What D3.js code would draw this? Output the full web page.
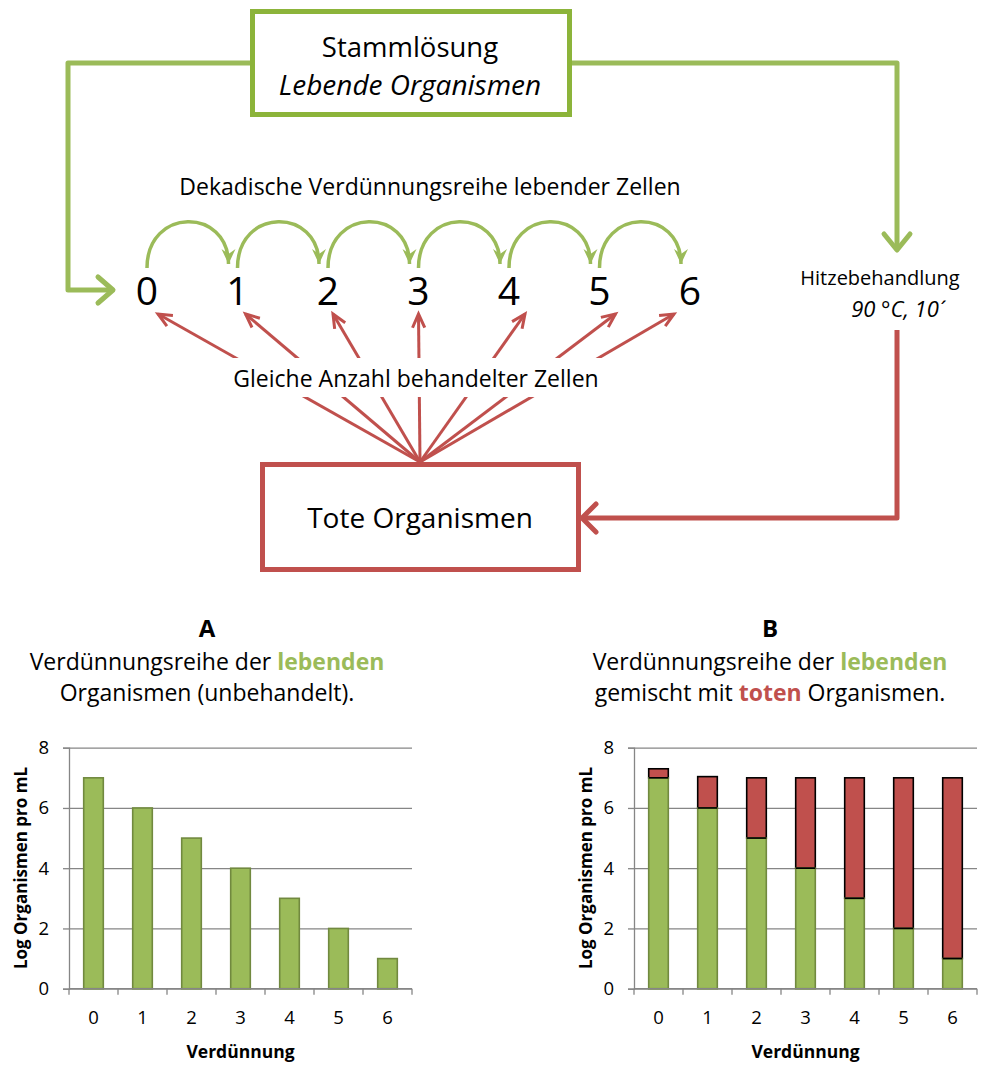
<!DOCTYPE html>
<html>
<head>
<meta charset="utf-8">
<script src="https://cdn.jsdelivr.net/npm/d3@7"></script>
<style>
  html, body { margin: 0; padding: 0; background: #fff; }
  svg { display: block; font-family: "Open Sans", "DejaVu Sans", sans-serif; }
</style>
</head>
<body>
<svg id="chart" width="990" height="1066"></svg>
<script>
// ---------- DATA ----------
const dilutions = ["0", "1", "2", "3", "4", "5", "6"];
const liveA = [7, 6, 5, 4, 3, 2, 1];                 // chart A: living organisms (log/mL)
const liveB = [7, 6, 5, 4, 3, 2, 1];                 // chart B: living part
const totalB = [7.3, 7.04, 7.0, 7.0, 7.0, 7.0, 7.0]; // chart B: living + dead (log/mL)
const yTicks = [0, 2, 4, 6, 8];
const redTipOffsets = [11, 8, 5, 0, 16, 16, -16];    // where the red arrows hit each step

const GREEN = "#9BBB59", GREEN_DARK = "#71893F", BOX_GREEN = "#8CB43A";
const RED = "#C0504D", GRID = "#868686";

const svg = d3.select("#chart");

// ---------- DIAGRAM ----------
const dg = svg.append("g");
const stepX = d3.scalePoint().domain(dilutions).range([147, 690]);

// markers
const defs = svg.append("defs");
defs.append("marker").attr("id", "stealth").attr("markerUnits", "userSpaceOnUse")
  .attr("viewBox", "-16 -8 18 16").attr("refX", 0).attr("refY", 0)
  .attr("markerWidth", 18).attr("markerHeight", 16).attr("orient", "auto")
  .append("path").attr("d", "M0,0 L-15,-7 L-10,0 L-15,7 Z").attr("fill", GREEN);

// connectors from the stock solution
dg.append("path").attr("d", "M252,63 H68 V290 H112")
  .attr("fill", "none").attr("stroke", GREEN).attr("stroke-width", 5).attr("stroke-linejoin", "round");
dg.append("path").attr("d", "M98,277 L113,290 L98,303")
  .attr("fill", "none").attr("stroke", GREEN).attr("stroke-width", 5).attr("stroke-linecap", "round").attr("stroke-linejoin", "round");
dg.append("path").attr("d", "M570,63 H897 V249")
  .attr("fill", "none").attr("stroke", GREEN).attr("stroke-width", 5).attr("stroke-linejoin", "round");
dg.append("path").attr("d", "M884,234 L897,250 L910,234")
  .attr("fill", "none").attr("stroke", GREEN).attr("stroke-width", 5).attr("stroke-linecap", "round").attr("stroke-linejoin", "round");

// heat treatment connector (red)
dg.append("path").attr("d", "M897,330 V518 H583")
  .attr("fill", "none").attr("stroke", RED).attr("stroke-width", 5).attr("stroke-linejoin", "round");
dg.append("path").attr("d", "M596,504 L582,518 L596,532")
  .attr("fill", "none").attr("stroke", RED).attr("stroke-width", 5).attr("stroke-linecap", "round").attr("stroke-linejoin", "round");

// top box
dg.append("rect").attr("x", 252.5).attr("y", 11.5).attr("width", 317).attr("height", 103)
  .attr("fill", "#fff").attr("stroke", BOX_GREEN).attr("stroke-width", 5);
dg.append("text").attr("x", 410).attr("y", 57).attr("text-anchor", "middle")
  .attr("font-size", 27.5).text("Stammlösung");
dg.append("text").attr("x", 410).attr("y", 95).attr("text-anchor", "middle")
  .attr("font-size", 28).attr("font-style", "italic").text("Lebende Organismen");

// bottom box
dg.append("rect").attr("x", 262.5).attr("y", 464.5).attr("width", 316).attr("height", 105)
  .attr("fill", "#fff").attr("stroke", RED).attr("stroke-width", 5);
dg.append("text").attr("x", 420).attr("y", 528).attr("text-anchor", "middle")
  .attr("font-size", 28).text("Tote Organismen");

// heat treatment label
dg.append("text").attr("x", 880).attr("y", 285).attr("text-anchor", "middle")
  .attr("font-size", 20).text("Hitzebehandlung");
dg.append("text").attr("x", 895).attr("y", 317).attr("text-anchor", "middle")
  .attr("font-size", 22).attr("font-style", "italic").text("90 °C, 10´");

// decadic series label
dg.append("text").attr("x", 430).attr("y", 195).attr("text-anchor", "middle")
  .attr("font-size", 23).text("Dekadische Verdünnungsreihe lebender Zellen");

// green arcs between steps
dilutions.slice(0, -1).forEach((d, i) => {
  const x0 = stepX(d), x1 = stepX(dilutions[i + 1]) - 9;
  dg.append("path")
    .attr("d", `M${x0},268 C${x0},207 ${x1},207 ${x1},264`)
    .attr("fill", "none").attr("stroke", GREEN).attr("stroke-width", 3.5)
    .attr("marker-end", "url(#stealth)");
});

// red arrows from dead organisms to each step
const origin = [420, 462];
dilutions.forEach((d, i) => {
  const tx = stepX(d) + redTipOffsets[i], ty = 314;
  const ang = Math.atan2(ty - origin[1], tx - origin[0]);
  dg.append("line").attr("x1", origin[0]).attr("y1", origin[1]).attr("x2", tx).attr("y2", ty)
    .attr("stroke", RED).attr("stroke-width", 3);
  const L = 15, spread = 0.42;
  const a1 = ang + Math.PI - spread, a2 = ang + Math.PI + spread;
  dg.append("path")
    .attr("d", `M${tx + L * Math.cos(a1)},${ty + L * Math.sin(a1)} L${tx},${ty} L${tx + L * Math.cos(a2)},${ty + L * Math.sin(a2)}`)
    .attr("fill", "none").attr("stroke", RED).attr("stroke-width", 3).attr("stroke-linejoin", "miter");
});
dg.append("rect").attr("x", 200).attr("y", 358).attr("width", 440).attr("height", 39).attr("fill", "#fff");
dg.append("text").attr("x", 416).attr("y", 387).attr("text-anchor", "middle")
  .attr("font-size", 23).text("Gleiche Anzahl behandelter Zellen");

// step numbers
dg.selectAll("text.step").data(dilutions).join("text").attr("class", "step")
  .attr("x", d => stepX(d)).attr("y", 305).attr("text-anchor", "middle")
  .attr("font-size", 39).text(d => d);

// ---------- CHARTS ----------
function drawChart(opts) {
  const g = svg.append("g");
  const x = d3.scaleBand().domain(dilutions).range([opts.x0, opts.x1]).paddingInner(0.6).paddingOuter(0.3);
  const y = d3.scaleLinear().domain([0, 8]).range([988.7, 747.7]);
  const step = x.step();

  // titles
  g.append("text").attr("x", opts.tx).attr("y", 637).attr("text-anchor", "middle")
    .attr("font-size", 24).attr("font-weight", "bold").text(opts.letter);
  const t1 = g.append("text").attr("x", opts.tx).attr("y", 670).attr("text-anchor", "middle").attr("font-size", 23);
  opts.line1.forEach(p => t1.append("tspan").attr("fill", p.c || "#000").attr("font-weight", p.b ? "bold" : null).text(p.t));
  const t2 = g.append("text").attr("x", opts.tx).attr("y", 701).attr("text-anchor", "middle").attr("font-size", 23);
  opts.line2.forEach(p => t2.append("tspan").attr("fill", p.c || "#000").attr("font-weight", p.b ? "bold" : null).text(p.t));

  // gridlines
  const yAxis = d3.axisLeft(y).tickValues(yTicks).tickSize(-(opts.x1 - opts.x0)).tickPadding(0).tickFormat("");
  g.append("g").attr("transform", `translate(${opts.x0},0)`).call(yAxis)
    .call(s => s.select(".domain").remove())
    .call(s => s.selectAll("line").attr("stroke", GRID).attr("stroke-width", 1.3));
  // y tick marks and labels
  const yAxis2 = d3.axisLeft(y).tickValues(yTicks).tickSize(6).tickPadding(14);
  g.append("g").attr("transform", `translate(${opts.x0},0)`).call(yAxis2)
    .call(s => s.select(".domain").attr("stroke", GRID).attr("stroke-width", 1.3))
    .call(s => s.selectAll("line").attr("stroke", GRID).attr("stroke-width", 1.3))
    .call(s => s.selectAll("text").attr("font-size", 18.5).attr("fill", "#000").attr("font-family", "Open Sans, sans-serif"));

  // bars
  if (opts.total) {
    g.selectAll("rect.dead").data(dilutions).join("rect").attr("class", "dead")
      .attr("x", d => x(d)).attr("width", x.bandwidth())
      .attr("y", (d, i) => y(opts.total[i])).attr("height", (d, i) => y(opts.live[i]) - y(opts.total[i]))
      .attr("fill", RED).attr("stroke", "#000").attr("stroke-width", 1.6);
  }
  g.selectAll("rect.live").data(dilutions).join("rect").attr("class", "live")
    .attr("x", d => x(d)).attr("width", x.bandwidth())
    .attr("y", (d, i) => y(opts.live[i])).attr("height", (d, i) => y(0) - y(opts.live[i]))
    .attr("fill", GREEN).attr("stroke", GREEN_DARK).attr("stroke-width", 1.6);
  if (opts.total) {
    // boundary line between living and dead segments
    g.selectAll("line.sep").data(dilutions).join("line").attr("class", "sep")
      .attr("x1", d => x(d)).attr("x2", d => x(d) + x.bandwidth())
      .attr("y1", (d, i) => y(opts.live[i])).attr("y2", (d, i) => y(opts.live[i]))
      .attr("stroke", "#000").attr("stroke-width", 1.6);
  }

  // x axis: boundary ticks (Excel style) + category labels
  const bounds = d3.range(dilutions.length + 1).map(i => opts.x0 + i * step);
  g.append("line").attr("x1", opts.x0).attr("x2", opts.x1).attr("y1", y(0)).attr("y2", y(0))
    .attr("stroke", GRID).attr("stroke-width", 1.3);
  g.selectAll("line.bt").data(bounds).join("line").attr("class", "bt")
    .attr("x1", d => d).attr("x2", d => d).attr("y1", y(0)).attr("y2", y(0) + 6)
    .attr("stroke", GRID).attr("stroke-width", 1.3);
  g.selectAll("text.xl").data(dilutions).join("text").attr("class", "xl")
    .attr("x", d => x(d) + x.bandwidth() / 2).attr("y", 1024).attr("text-anchor", "middle")
    .attr("font-size", 18.5).text(d => d);

  // axis titles
  g.append("text").attr("x", (opts.x0 + opts.x1) / 2).attr("y", 1058).attr("text-anchor", "middle")
    .attr("font-size", 17.5).attr("font-weight", "bold").text("Verdünnung");
  g.append("text").attr("transform", `translate(${opts.yx},868) rotate(-90)`).attr("text-anchor", "middle")
    .attr("dominant-baseline", "central")
    .attr("font-size", 17).attr("font-weight", "bold").text("Log Organismen pro mL");
}

drawChart({
  x0: 69, x1: 412, tx: 207, yx: 20, letter: "A", live: liveA,
  line1: [{ t: "Verdünnungsreihe der " }, { t: "lebenden", c: GREEN, b: true }],
  line2: [{ t: "Organismen (unbehandelt)." }]
});
drawChart({
  x0: 634, x1: 977, tx: 770, yx: 585, letter: "B", live: liveB, total: totalB,
  line1: [{ t: "Verdünnungsreihe der " }, { t: "lebenden", c: GREEN, b: true }],
  line2: [{ t: "gemischt mit " }, { t: "toten", c: RED, b: true }, { t: " Organismen." }]
});
</script>
</body>
</html>
